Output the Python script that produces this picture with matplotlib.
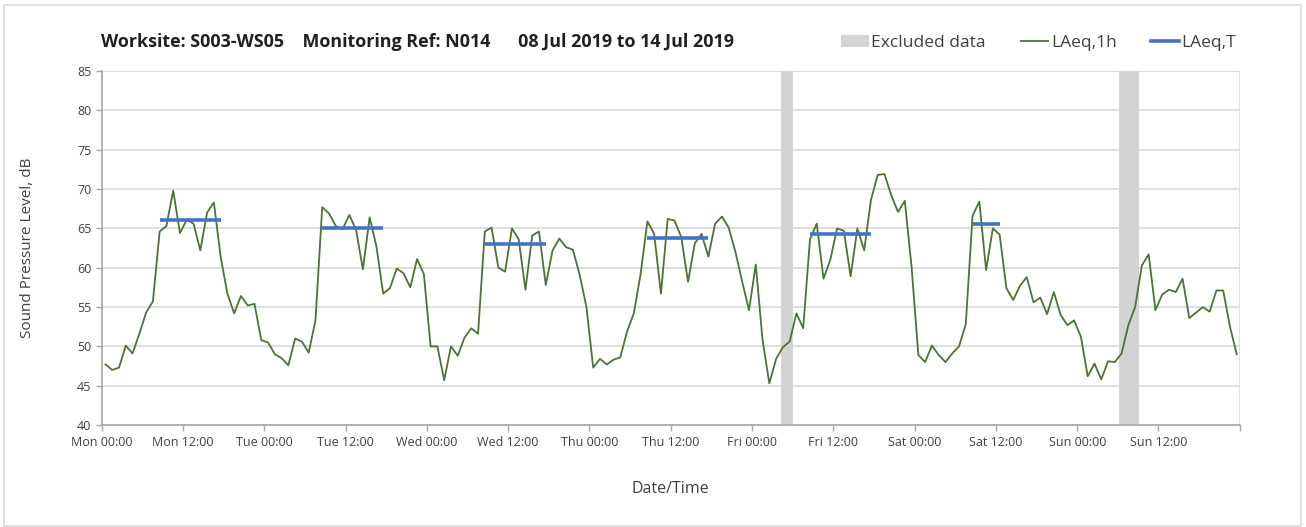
import numpy as np
import matplotlib
matplotlib.use("Agg")
import matplotlib.pyplot as plt
from matplotlib.patches import Patch, Rectangle
from matplotlib.lines import Line2D

plt.rcParams['font.family'] = ['Open Sans', 'DejaVu Sans']

# ---- data ----
title = "Worksite: S003-WS05    Monitoring Ref: N014      08 Jul 2019 to 14 Jul 2019"
days = ["Mon", "Tue", "Wed", "Thu", "Fri", "Sat", "Sun"]

laeq_1h = [
    # Mon
    47.7, 47.0, 47.3, 50.1, 49.1, 51.6, 54.3, 55.7, 64.6, 65.3, 69.8, 64.4,
    66.1, 65.6, 62.2, 67.0, 68.3, 61.4, 56.7, 54.2, 56.4, 55.2, 55.4, 50.8,
    # Tue
    50.5, 49.0, 48.5, 47.6, 51.0, 50.6, 49.2, 53.3, 67.7, 66.9, 65.3, 64.9,
    66.7, 64.8, 59.8, 66.4, 62.7, 56.7, 57.4, 59.9, 59.3, 57.5, 61.1, 59.2,
    # Wed
    50.0, 50.0, 45.7, 50.0, 48.8, 51.1, 52.3, 51.6, 64.6, 65.1, 60.0, 59.5,
    65.0, 63.6, 57.2, 64.1, 64.6, 57.8, 62.2, 63.7, 62.6, 62.3, 59.1, 55.0,
    # Thu
    47.3, 48.4, 47.7, 48.3, 48.6, 51.9, 54.2, 59.2, 65.9, 64.3, 56.7, 66.2,
    66.0, 63.9, 58.2, 63.1, 64.3, 61.4, 65.6, 66.5, 65.1, 62.0, 58.2, 54.6,
    # Fri
    60.4, 50.8, 45.3, 48.4, 49.9, 50.6, 54.2, 52.3, 63.6, 65.6, 58.6, 61.0,
    65.0, 64.7, 58.9, 65.0, 62.2, 68.6, 71.8, 71.9, 69.2, 67.1, 68.5, 60.1,
    # Sat
    48.9, 48.0, 50.1, 48.9, 48.0, 49.1, 50.0, 52.8, 66.6, 68.4, 59.7, 65.0,
    64.2, 57.4, 55.9, 57.7, 58.8, 55.6, 56.2, 54.1, 56.9, 54.0, 52.7, 53.3,
    # Sun
    51.2, 46.2, 47.8, 45.8, 48.1, 48.0, 49.1, 52.7, 55.0, 60.3, 61.7, 54.6,
    56.6, 57.2, 56.9, 58.6, 53.6, 54.3, 55.0, 54.4, 57.1, 57.1, 52.5, 49.0,
]

# LAeq,T periods: (first hour, last hour, level)
laeqT_start = [8, 32, 56, 80, 104, 128]
laeqT_end = [17, 41, 65, 89, 113, 132]
laeqT_level = [66.1, 65.0, 63.0, 63.8, 64.3, 65.6]

excluded_start = [100.2, 150.2]
excluded_end = [102.1, 153.1]

hours = np.arange(len(laeq_1h))

# ---- figure ----
fig = plt.figure(figsize=(13.06, 5.27), dpi=100)
ax = fig.add_axes([0.0779, 0.1935, 0.8714, 0.6717])

for s, e in zip(excluded_start, excluded_end):
    ax.axvspan(s, e, color='#d4d4d4', lw=0, zorder=1)

ax.plot(hours + 0.55, laeq_1h, color='#4b7435', lw=1.3, zorder=3)
for s, e, v in zip(laeqT_start, laeqT_end, laeqT_level):
    ax.plot([s + 0.55, e + 0.55], [v, v], color='#4472c4', lw=2.6,
            solid_capstyle='butt', zorder=4)

ax.set_xlim(0, 168)
ax.set_ylim(40, 85)
ax.set_yticks(np.arange(40, 86, 5))
xt = np.arange(0, 168, 12)
ax.set_xticks(xt)
ax.set_xticklabels([f"{days[int(t)//24]} {'00:00' if t % 24 == 0 else '12:00'}" for t in xt])
ax.set_xticks(np.arange(0, 169, 24), minor=True)

ax.grid(axis='y', color='#d9d9d9', lw=1.2, zorder=0)
ax.grid(axis='x', which='minor', color='#d9d9d9', lw=1.2, zorder=0)
ax.set_axisbelow(True)

for sp in ['top', 'right']:
    ax.spines[sp].set_visible(False)
for sp in ['left', 'bottom']:
    ax.spines[sp].set_color('#a6a6a6')
    ax.spines[sp].set_linewidth(1.2)

ax.tick_params(axis='both', which='major', direction='out', length=4,
               color='#a6a6a6', width=1.0, labelsize=9, labelcolor='#404040')
ax.tick_params(axis='x', which='minor', length=4, color='#a6a6a6', width=1.0)
ax.tick_params(axis='x', pad=4)

ax.set_ylabel("Sound Pressure Level, dB", fontsize=11, color='#404040', labelpad=30)
ax.set_xlabel("Date/Time", fontsize=11.5, color='#404040', labelpad=23)

fig.text(101 / 1306, 1 - 42 / 527, title, fontsize=12.9, fontweight='bold',
         color='#202020', ha='left', va='center')

handles = [Patch(facecolor='#d4d4d4', edgecolor='none'),
           Line2D([], [], color='#4b7435', lw=1.3),
           Line2D([], [], color='#4472c4', lw=2.6)]
labels = ["Excluded data", "LAeq,1h", "LAeq,T"]
fig.legend(handles, labels, ncol=3, frameon=False, fontsize=12.5,
           loc='center right', bbox_to_anchor=(1252 / 1306, 1 - 43 / 527),
           handlelength=1.6, handletextpad=0.15, columnspacing=2.0,
           labelcolor='#404040')

fig.patches.append(Rectangle((4 / 1306, 1 / 527), 1297 / 1306, 521 / 527,
                             transform=fig.transFigure, fill=False,
                             edgecolor='#d9d9d9', lw=1.2))

fig.savefig("out.png", dpi=100, facecolor='white')
